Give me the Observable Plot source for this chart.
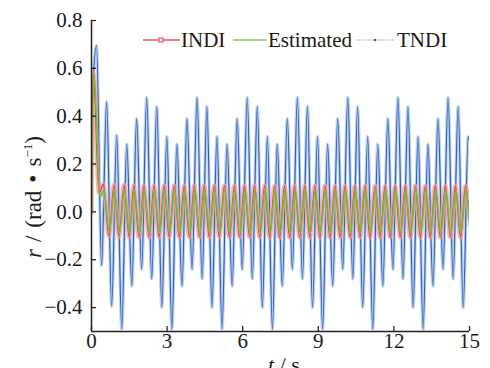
<!DOCTYPE html>
<html>
<head>
<meta charset="utf-8">
<script src="https://cdn.jsdelivr.net/npm/d3@7"></script>
<script src="https://cdn.jsdelivr.net/npm/@observablehq/plot@0.6"></script>
<style>
  html, body { margin: 0; padding: 0; background: #ffffff; }
  #wrap { position: relative; width: 490px; height: 368px; overflow: hidden; }
  #overlay { position: absolute; left: 0; top: 0; pointer-events: none; }
  #wrap svg, #wrap svg text { font-family: "Liberation Serif", "Times New Roman", Tinos, "DejaVu Serif", "Noto Serif", serif !important; }
</style>
</head>
<body>
<div id="wrap"></div>
<script>
// ---- axis ticks ----
const xTicks = [0, 3, 6, 9, 12, 15];
const yTicks = [-0.4, -0.2, 0.0, 0.2, 0.4, 0.6, 0.8];

// ---- TNDI (extrema) ----
const tndiEdgeT = [0, 0.03, 15];
const tndiEdgeV = [0, 0.45, 0.29];
const tndiPeakT = [0.20,0.60,1.00,1.40,1.79,2.19,2.59,2.99,3.39,3.79,4.19,4.58,4.98,5.38,5.78,6.18,6.58,6.98,7.37,7.77,8.17,8.57,8.97,9.37,9.77,10.17,10.56,10.96,11.36,11.76,12.16,12.56,12.96,13.35,13.75,14.15,14.55,14.95];
const tndiPeakV = [0.695,0.46,0.32,0.283,0.39,
  0.478,0.44,0.315,0.283,0.39,
  0.478,0.44,0.315,0.283,0.39,
  0.478,0.44,0.315,0.283,0.39,
  0.478,0.44,0.315,0.283,0.39,
  0.478,0.44,0.315,0.283,0.39,
  0.478,0.44,0.315,0.283,0.39,
  0.478,0.44,0.315];
const tndiTroughT = [0.40,0.80,1.20,1.60,1.99,2.39,2.79,3.19,3.59,3.99,4.39,4.78,5.18,5.58,5.98,6.38,6.78,7.18,7.57,7.97,8.37,8.77,9.17,9.57,9.97,10.37,10.76,11.16,11.56,11.96,12.36,12.76,13.16,13.55,13.95,14.35,14.75];
const tndiTroughV = [-0.225,-0.395,-0.49,-0.31,-0.24,
  -0.28,-0.40,-0.49,-0.31,-0.24,
  -0.28,-0.40,-0.49,-0.31,-0.24,
  -0.28,-0.40,-0.49,-0.31,-0.24,
  -0.28,-0.40,-0.49,-0.31,-0.24,
  -0.28,-0.40,-0.49,-0.31,-0.24,
  -0.28,-0.40,-0.49,-0.31,-0.24,
  -0.28,-0.40];

// ---- INDI ----
const indiEdgeT = [0, 15];
const indiEdgeV = [0, -0.03];
const indiPeakT = [0.07,0.47,0.89,1.29,1.68,2.08,2.48,2.88,3.28,3.68,4.08,4.47,4.87,5.27,5.67,6.07,6.47,6.87,7.26,7.66,8.06,8.46,8.86,9.26,9.66,10.06,10.45,10.85,11.25,11.65,12.05,12.45,12.85,13.24,13.64,14.04,14.44,14.84];
const indiPeakV = [0.58,0.115,0.112,0.112,0.11,0.11,0.11,0.11,0.11,0.11,0.11,0.11,0.11,0.11,0.11,0.11,0.11,0.11,0.108,0.108,0.108,0.108,0.108,0.108,0.108,0.108,0.108,0.108,0.108,0.108,0.108,0.108,0.108,0.108,0.108,0.108,0.108,0.108];
const indiTroughT = [0.30,0.69,1.09,1.49,1.88,2.28,2.68,3.08,3.48,3.88,4.28,4.67,5.07,5.47,5.87,6.27,6.67,7.07,7.46,7.86,8.26,8.66,9.06,9.46,9.86,10.26,10.65,11.05,11.45,11.85,12.25,12.65,13.05,13.44,13.84,14.24,14.64];
const indiTroughV = [0.08,-0.10,-0.102,-0.104,-0.105,-0.105,-0.105,-0.105,-0.105,-0.105,-0.105,-0.105,-0.105,-0.105,-0.105,-0.105,-0.105,-0.106,-0.106,-0.106,-0.106,-0.106,-0.106,-0.106,-0.106,-0.106,-0.106,-0.106,-0.106,-0.106,-0.106,-0.106,-0.106,-0.106,-0.106,-0.106,-0.106];

// ---- Estimated ----
const estEdgeT = [0, 15];
const estEdgeV = [0, -0.06];
const estPeakT = [0.10,0.49,0.91,1.31,1.70,2.10,2.50,2.90,3.30,3.70,4.10,4.49,4.89,5.29,5.69,6.09,6.49,6.89,7.28,7.68,8.08,8.48,8.88,9.28,9.68,10.08,10.47,10.87,11.27,11.67,12.07,12.47,12.87,13.26,13.66,14.06,14.46,14.86];
const estPeakV = [0.58,0.09,0.092,0.092,0.092,0.092,0.092,0.092,0.092,0.092,0.092,0.092,0.092,0.092,0.092,0.092,0.092,0.092,0.092,0.092,0.092,0.092,0.092,0.092,0.092,0.092,0.092,0.092,0.092,0.092,0.092,0.092,0.092,0.092,0.092,0.092,0.092,0.092];
const estTroughT = [0.33,0.71,1.11,1.51,1.90,2.30,2.70,3.10,3.50,3.90,4.30,4.69,5.09,5.49,5.89,6.29,6.69,7.09,7.48,7.88,8.28,8.68,9.08,9.48,9.88,10.28,10.67,11.07,11.47,11.87,12.27,12.67,13.07,13.46,13.86,14.26,14.66];
const estTroughV = [0.06,-0.086,-0.088,-0.088,-0.088,-0.088,-0.088,-0.088,-0.088,-0.088,-0.088,-0.088,-0.088,-0.088,-0.088,-0.088,-0.088,-0.088,-0.088,-0.088,-0.088,-0.088,-0.088,-0.088,-0.088,-0.088,-0.088,-0.088,-0.088,-0.088,-0.088,-0.088,-0.088,-0.088,-0.088,-0.088,-0.088];

function build(eT, eV, pT, pV, tT, tV) {
  const rows = [];
  eT.forEach((t, i) => rows.push({t, v: eV[i]}));
  pT.forEach((t, i) => rows.push({t, v: pV[i]}));
  tT.forEach((t, i) => rows.push({t, v: tV[i]}));
  return rows.sort((a, b) => a.t - b.t);
}
const tndi = build(tndiEdgeT, tndiEdgeV, tndiPeakT, tndiPeakV, tndiTroughT, tndiTroughV);
const indi = build(indiEdgeT, indiEdgeV, indiPeakT, indiPeakV, indiTroughT, indiTroughV);
const est = build(estEdgeT, estEdgeV, estPeakT, estPeakV, estTroughT, estTroughV);

const fmt = d3.format(".1f");

const chart = Plot.plot({
  width: 490,
  height: 368,
  marginLeft: 91,
  marginRight: 21,
  marginTop: 20,
  marginBottom: 37,
  x: {domain: [0, 15]},
  y: {domain: [-0.5, 0.8]},
  style: {fontFamily: "'Liberation Serif', 'Times New Roman', serif", fontSize: "21px", color: "#1a1a1a", background: "transparent", overflow: "visible"},
  marks: [
    Plot.line(tndi, {x: "t", y: "v", curve: "monotone-x", stroke: "#9ab6e2", strokeWidth: 3.2, strokeOpacity: 0.6, clip: true}),
    Plot.line(tndi, {x: "t", y: "v", curve: "monotone-x", stroke: "#2d62b5", strokeWidth: 1.2, clip: true}),
    Plot.line(indi, {x: "t", y: "v", curve: "monotone-x", stroke: "#f0a0a0", strokeWidth: 4.5, strokeOpacity: 0.75, clip: true}),
    Plot.line(indi, {x: "t", y: "v", curve: "monotone-x", stroke: "#e5393b", strokeWidth: 1.1, clip: true}),
    Plot.line(est, {x: "t", y: "v", curve: "monotone-x", stroke: "#74bd3a", strokeWidth: 1.6, clip: true}),
    Plot.axisX({ticks: xTicks, tickSize: -5, tickPadding: 7, tickFormat: d => String(d), label: null, stroke: "#222", strokeWidth: 1.3}),
    Plot.axisY({ticks: yTicks, tickSize: -5, tickPadding: 14, tickFormat: fmt, label: null, stroke: "#222", strokeWidth: 1.3}),
    Plot.ruleX([0], {stroke: "#222", strokeWidth: 1.5}),
    Plot.ruleY([-0.5], {stroke: "#222", strokeWidth: 1.5})
  ]
});
const wrap = document.getElementById("wrap");
wrap.appendChild(chart);

// ---- overlay: legend and axis titles ----
const NS = "http://www.w3.org/2000/svg";
const ov = document.createElementNS(NS, "svg");
ov.setAttribute("id", "overlay");
ov.setAttribute("width", 490);
ov.setAttribute("height", 368);
ov.innerHTML = `
  <line x1="143" y1="40" x2="180" y2="40" stroke="#ee5b5b" stroke-width="1.3"/>
  <rect x="159" y="38" width="4" height="4" fill="#fff" stroke="#e5393b" stroke-width="1"/>
  <text x="181" y="47" font-size="21" fill="#1a1a1a">INDI</text>
  <line x1="233" y1="40" x2="267" y2="40" stroke="#8cc95a" stroke-width="1.3"/>
  <text x="268" y="47" font-size="21" fill="#1a1a1a">Estimated</text>
  <line x1="356" y1="40" x2="395" y2="40" stroke="#5b7fc8" stroke-width="0.8" stroke-dasharray="1.5,1.5"/>
  <circle cx="375" cy="40" r="1.3" fill="#2d62b5"/>
  <text x="397" y="47" font-size="21" fill="#1a1a1a">TNDI</text>
  <text transform="translate(41,258) rotate(-90)" text-anchor="start" font-size="23" fill="#1a1a1a"><tspan font-style="italic">r</tspan><tspan dx="7">/</tspan><tspan dx="8">(rad</tspan><tspan dx="8">•</tspan><tspan dx="8">s</tspan><tspan font-size="13" dy="-9">−1</tspan><tspan dy="9">)</tspan></text>
  <text x="284" y="372" text-anchor="middle" font-size="22" fill="#1a1a1a"><tspan font-style="italic">t</tspan> / s</text>
`;
wrap.appendChild(ov);
</script>
</body>
</html>
